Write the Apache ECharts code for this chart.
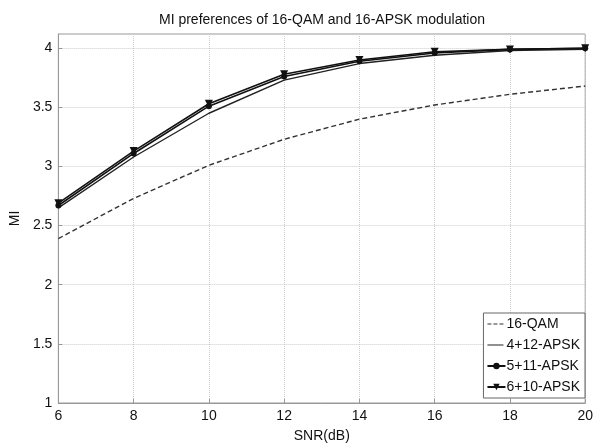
<!DOCTYPE html>
<html>
<head>
<meta charset="utf-8">
<script src="https://cdn.jsdelivr.net/npm/echarts@6/dist/echarts.min.js"></script>
<style>
	html, body { margin: 0; padding: 0; background: #fff; }
	#chart { width: 596px; height: 448px; }
</style>
</head>
<body>
<div id="chart"></div>
<script>
var snr = [6, 8, 10, 12, 14, 16, 18, 20];
var qam16 = [2.39, 2.73, 3.01, 3.23, 3.40, 3.52, 3.61, 3.68];
var apsk4_12 = [2.65, 3.08, 3.45, 3.73, 3.87, 3.94, 3.98, 3.99];
var apsk5_11 = [2.67, 3.11, 3.51, 3.76, 3.89, 3.96, 3.99, 4.00];
var apsk6_10 = [2.69, 3.13, 3.53, 3.78, 3.90, 3.97, 3.99, 4.00];
var seriesNames = ['16-QAM', '4+12-APSK', '5+11-APSK', '6+10-APSK'];

function pairs(ys) {
	return snr.map(function (x, i) { return [x, ys[i]]; });
}

// legend icons in an 18x8 box, corner anchors keep the box from being stretched
var anchor = 'M0,0L0.01,0L0,0.01Z M18,8L17.99,8L18,7.99Z ';
var dashIcon = 'path://' + anchor + 'M0,3.4h4v1.2h-4Z M6,3.4h4v1.2h-4Z M12,3.4h4v1.2h-4Z';
var solidIcon = 'path://' + anchor + 'M0,3.4h16v1.2h-16Z';

var font = 'Liberation Sans, Arial, sans-serif';
var chart = echarts.init(document.getElementById('chart'));
var option = {
	animation: false,
	backgroundColor: '#fff',
	textStyle: { fontFamily: font },
	title: {
		text: 'MI preferences of 16-QAM and 16-APSK modulation',
		left: 317,
		textAlign: 'center',
		top: 8,
		textStyle: { fontSize: 14, fontWeight: 'normal', color: '#111', fontFamily: font }
	},
	grid: {
		left: 47,
		right: 8,
		top: 34,
		bottom: 41,
		show: true,
		borderColor: '#999',
		borderWidth: 1
	},
	legend: {
		orient: 'vertical',
		right: 11,
		bottom: 50,
		itemGap: 7,
		itemWidth: 18,
		itemHeight: 8,
		padding: [4, 5, 4, 3],
		borderColor: '#666',
		borderWidth: 1,
		backgroundColor: '#fff',
		textStyle: { fontSize: 14, color: '#111', padding: [0, 0, 0, -4] },
		data: [
			{ name: seriesNames[0], icon: dashIcon },
			{ name: seriesNames[1], icon: solidIcon },
			{ name: seriesNames[2] },
			{ name: seriesNames[3] }
		]
	},
	xAxis: {
		type: 'value',
		min: 6,
		max: 20,
		interval: 2,
		name: 'SNR(dB)',
		nameLocation: 'middle',
		nameGap: 26,
		nameTextStyle: { fontSize: 14, color: '#111' },
		axisLine: { lineStyle: { color: '#999' } },
		axisTick: { inside: true, length: 4, lineStyle: { color: '#999' } },
		axisLabel: { fontSize: 14, color: '#111', margin: 6 },
		splitLine: { lineStyle: { color: '#ccc', type: 'dotted' } }
	},
	yAxis: {
		type: 'value',
		min: 1,
		max: 4.12,
		interval: 0.5,
		name: 'MI',
		nameLocation: 'middle',
		nameGap: 30,
		nameTextStyle: { fontSize: 14, color: '#111' },
		axisLine: { show: true, lineStyle: { color: '#999' } },
		axisTick: { show: true, inside: true, length: 4, lineStyle: { color: '#999' } },
		axisLabel: { fontSize: 14, color: '#111', margin: 6, showMaxLabel: false },
		splitLine: { lineStyle: { color: '#ccc', type: 'dotted' } }
	},
	series: [
		{
			name: '16-QAM',
			type: 'line',
			symbol: 'none',
			color: '#333',
			lineStyle: { color: '#333', width: 1.4, type: [5, 3] },
			data: pairs(qam16)
		},
		{
			name: '4+12-APSK',
			type: 'line',
			symbol: 'none',
			color: '#222',
			lineStyle: { color: '#222', width: 1.4 },
			data: pairs(apsk4_12)
		},
		{
			name: '5+11-APSK',
			type: 'line',
			symbol: 'circle',
			symbolSize: 6,
			color: '#111',
			itemStyle: { color: '#111' },
			lineStyle: { color: '#111', width: 1.6 },
			data: pairs(apsk5_11)
		},
		{
			name: '6+10-APSK',
			type: 'line',
			symbol: 'path://M0,0 L10,0 L5,9 Z',
			symbolSize: 8,
			color: '#111',
			itemStyle: { color: '#111' },
			lineStyle: { color: '#111', width: 1.6 },
			data: pairs(apsk6_10)
		}
	]
};
chart.setOption(option);
</script>
</body>
</html>
